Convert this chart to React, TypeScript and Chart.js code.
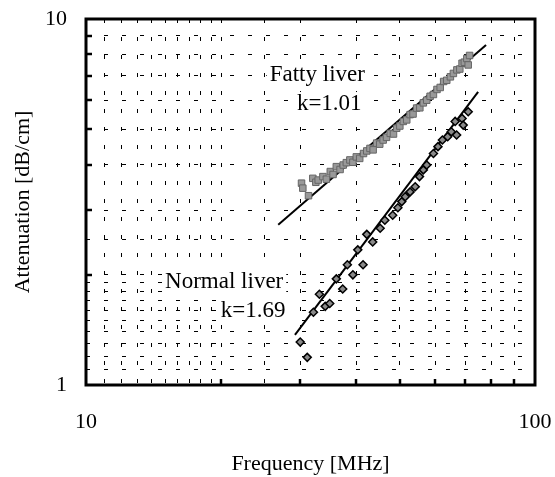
import React, { useEffect, useRef } from 'react';
import { Chart, registerables } from 'chart.js';

Chart.register(...registerables);

// Fatty liver measurements (frequency MHz, attenuation dB/cm)
const fattyFreq = [30.2, 30.4, 31.3, 32.0, 32.5, 32.9, 33.7, 34.3, 35.0, 35.5, 36.1, 36.8, 37.4, 38.0, 38.7, 39.3, 40.0, 40.7, 41.5, 42.2, 42.9, 43.6, 44.4, 45.1, 45.9, 46.7, 47.6, 48.4, 49.2, 50.0, 50.9, 51.8, 52.7, 53.5, 54.5, 55.4, 56.4, 57.4, 58.4, 59.4, 60.5, 61.5, 62.6, 63.6, 64.8, 65.8, 67.0, 68.0, 68.8, 69.6, 70.5, 71.0, 71.5];
const fattyAtt = [3.56, 3.45, 3.29, 3.67, 3.58, 3.63, 3.71, 3.65, 3.83, 3.76, 3.95, 3.88, 3.99, 4.05, 4.12, 4.06, 4.20, 4.16, 4.29, 4.36, 4.43, 4.39, 4.58, 4.55, 4.67, 4.75, 4.87, 4.85, 5.03, 5.10, 5.25, 5.30, 5.48, 5.50, 5.71, 5.72, 5.90, 6.00, 6.15, 6.22, 6.42, 6.50, 6.75, 6.80, 6.95, 7.10, 7.26, 7.30, 7.57, 7.62, 7.80, 7.49, 7.95];

// Normal liver measurements
const normalFreq = [30.0, 31.1, 32.1, 33.1, 34.1, 34.9, 36.1, 37.3, 38.2, 39.3, 40.3, 41.4, 42.2, 43.5, 45.2, 46.3, 48.2, 49.5, 50.5, 51.4, 52.7, 54.1, 55.3, 56.4, 57.4, 59.4, 60.8, 62.2, 63.9, 65.1, 66.4, 66.9, 68.8, 69.2, 71.0];
const normalAtt = [1.31, 1.19, 1.58, 1.77, 1.64, 1.67, 1.95, 1.83, 2.13, 2.00, 2.34, 2.13, 2.58, 2.46, 2.68, 2.82, 2.91, 3.05, 3.17, 3.27, 3.37, 3.48, 3.71, 3.87, 3.99, 4.29, 4.48, 4.67, 4.77, 4.92, 5.25, 4.82, 5.35, 5.13, 5.58];

// Fitted power-law lines (end points)
const fattyFitFreq = [26.8, 77.8];
const fattyFitAtt = [2.74, 8.49];
const normalFitFreq = [29.2, 74.7];
const normalFitAtt = [1.37, 6.32];

// Axis tick labels
const xTickValues = [10, 100];
const yTickValues = [1, 10];
const xMinorTicks = [20, 30, 40, 50, 60, 70, 80, 90];
const yMinorTicks = [2, 3, 4, 5, 6, 7, 8, 9];

// Text annotations (anchored in data coordinates, right-aligned)
const noteTexts = ['Fatty liver', 'k=1.01', 'Normal liver', 'k=1.69'];
const noteFreq = [41.8, 41.1, 27.5, 27.8];
const noteAtt = [6.75, 5.64, 1.84, 1.53];

const FONT = "'Liberation Serif', 'Times New Roman', serif";

const framePlugin = {
  id: 'frame',
  afterDatasetsDraw(chart: any) {
    const { ctx, chartArea, scales } = chart;
    const { left, right, top, bottom } = chartArea;
    ctx.save();
    ctx.strokeStyle = '#000';
    ctx.lineWidth = 2.5;
    ctx.lineCap = 'butt';
    yMinorTicks.forEach((v) => {
      const y = Math.round(scales.y.getPixelForValue(v));
      ctx.beginPath();
      ctx.moveTo(left, y);
      ctx.lineTo(left + 6, y);
      ctx.stroke();
    });
    xMinorTicks.forEach((v) => {
      const x = Math.round(scales.x.getPixelForValue(v));
      ctx.beginPath();
      ctx.moveTo(x, bottom);
      ctx.lineTo(x, bottom - 6);
      ctx.stroke();
    });
    ctx.lineWidth = 3;
    ctx.strokeRect(left, top, right - left, bottom - top);
    ctx.restore();
  },
  beforeDatasetsDraw(chart: any) {
    // white boxes behind the annotations hide the grid, as in the original
    const { ctx, scales } = chart;
    ctx.save();
    ctx.font = `23px ${FONT}`;
    ctx.fillStyle = '#fff';
    noteTexts.forEach((t, i) => {
      const x = scales.x.getPixelForValue(noteFreq[i]);
      const y = scales.y.getPixelForValue(noteAtt[i]);
      const w = ctx.measureText(t).width;
      ctx.fillRect(x - w - 3, y - 18, w + 6, 24);
    });
    ctx.restore();
  },
  afterDraw(chart: any) {
    const { ctx, scales } = chart;
    ctx.save();
    ctx.fillStyle = '#000';
    ctx.font = `23px ${FONT}`;
    ctx.textAlign = 'right';
    ctx.textBaseline = 'alphabetic';
    noteTexts.forEach((t, i) => {
      ctx.fillText(t, scales.x.getPixelForValue(noteFreq[i]), scales.y.getPixelForValue(noteAtt[i]));
    });
    ctx.restore();
  },
};

export default function App() {
  const ref = useRef<HTMLCanvasElement>(null);

  useEffect(() => {
    if (!ref.current) return;
    const tickFont = { family: FONT, size: 22 };
    const chart = new Chart(ref.current, {
      type: 'scatter',
      data: {
        datasets: [
          {
            label: 'Fatty liver',
            data: fattyFreq.map((x, i) => ({ x, y: fattyAtt[i] })),
            pointStyle: 'rect',
            pointRadius: 4.6,
            backgroundColor: '#999999',
            borderColor: '#666666',
            borderWidth: 1,
            showLine: false,
          },
          {
            label: 'Normal liver',
            data: normalFreq.map((x, i) => ({ x, y: normalAtt[i] })),
            pointStyle: 'rectRot',
            pointRadius: 4,
            backgroundColor: '#8a8a8a',
            borderColor: '#000',
            borderWidth: 1.5,
            showLine: false,
          },
          {
            label: 'Fatty fit',
            data: fattyFitFreq.map((x, i) => ({ x, y: fattyFitAtt[i] })),
            showLine: true,
            pointRadius: 0,
            borderColor: '#000',
            borderWidth: 2,
          },
          {
            label: 'Normal fit',
            data: normalFitFreq.map((x, i) => ({ x, y: normalFitAtt[i] })),
            showLine: true,
            pointRadius: 0,
            borderColor: '#000',
            borderWidth: 2,
          },
        ],
      } as any,
      options: {
        responsive: false,
        animation: false,
        layout: { padding: { top: 19, right: 20, left: 0, bottom: 0 } },
        plugins: { legend: { display: false }, tooltip: { enabled: false } },
        scales: {
          x: {
            type: 'logarithmic',
            min: 10,
            max: 100,
            position: 'bottom',
            grid: { color: '#000', lineWidth: 1, drawTicks: false },
            border: { display: false, dash: [4, 14] },
            ticks: {
              autoSkip: false,
              maxRotation: 0,
              padding: 24,
              color: '#000',
              font: tickFont,
              callback: (v: any) => (xTickValues.includes(Number(v)) ? String(v) : ''),
            },
            title: {
              display: true,
              text: 'Frequency [MHz]',
              color: '#000',
              font: tickFont,
              padding: { top: 0, bottom: 0 },
            },
            afterFit: (s: any) => {
              s.height = 92;
              s.paddingLeft = 0;
              s.paddingRight = 0;
            },
          },
          y: {
            type: 'logarithmic',
            min: 1,
            max: 10,
            grid: { color: '#000', lineWidth: 1, drawTicks: false },
            border: { display: false, dash: [4, 14] },
            ticks: {
              autoSkip: false,
              padding: 19,
              color: '#000',
              font: tickFont,
              callback: (v: any) => (yTickValues.includes(Number(v)) ? String(v) : ''),
            },
            title: {
              display: true,
              text: 'Attenuation [dB/cm]',
              color: '#000',
              font: tickFont,
              padding: { top: 10, bottom: 0 },
            },
            afterFit: (s: any) => {
              s.width = 86;
              s.paddingTop = 0;
              s.paddingBottom = 0;
            },
          },
        },
      } as any,
      plugins: [framePlugin],
    });
    return () => chart.destroy();
  }, []);

  return (
    <div style={{ position: 'absolute', left: 0, top: 0, width: 555, height: 477, background: '#fff' }}>
      <canvas ref={ref} width={555} height={477} style={{ width: 555, height: 477 }} />
    </div>
  );
}
